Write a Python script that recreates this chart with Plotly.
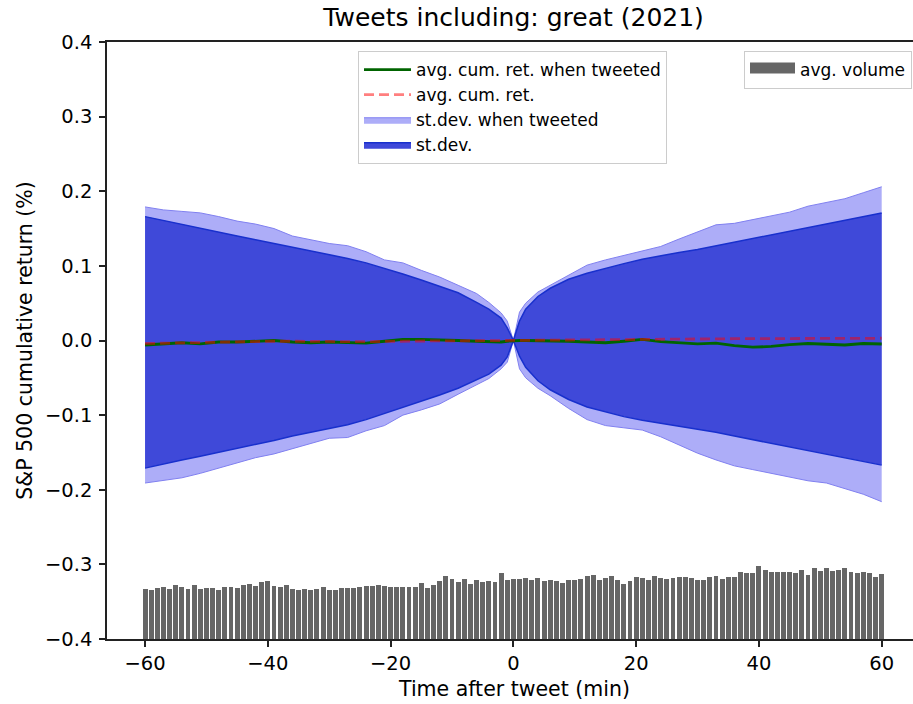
import plotly.graph_objects as go

# ---------------- data ----------------
minutes = [-60, -57, -54, -51, -48, -45, -42, -39, -36, -33, -30, -27, -24, -21, -18, -15, -12, -9, -6, -4, -2, -1, 0,
           1, 2, 4, 6, 9, 12, 15, 18, 21, 24, 27, 30, 33, 36, 39, 42, 45, 48, 51, 54, 57, 60]

ret_tweeted = [-0.006, -0.005, -0.003, -0.0045, -0.002, -0.002, -0.001, 0.0, -0.002, -0.003, -0.002, -0.003, -0.0035,
               -0.001, 0.0015, 0.0015, 0.001, 0.0, -0.001, -0.002, -0.002, -0.001, 0.0,
               0.0, 0.0, 0.0, -0.0005, -0.001, -0.002, -0.003, -0.001, 0.0015, -0.0015, -0.003, -0.0045, -0.0035,
               -0.007, -0.009, -0.008, -0.0055, -0.004, -0.005, -0.006, -0.004, -0.0047]

ret_all = [-0.004, -0.0035, -0.003, -0.003, -0.0025, -0.002, -0.0015, -0.001, -0.001, -0.0015, -0.0015, -0.0015,
           -0.0015, -0.001, -0.0005, -0.0005, -0.0005, -0.0005, -0.0005, 0.0, 0.0, 0.0, 0.0,
           0.0, 0.0, 0.0003, 0.0005, 0.0007, 0.001, 0.001, 0.0012, 0.0015, 0.0017, 0.002, 0.002, 0.0022, 0.0024,
           0.0025, 0.0026, 0.0027, 0.0028, 0.0029, 0.003, 0.003, 0.003]

sd_tweeted_upper = [0.179, 0.175, 0.173, 0.171, 0.166, 0.160, 0.156, 0.150, 0.140, 0.135, 0.130, 0.127, 0.119, 0.108,
                    0.104, 0.094, 0.085, 0.074, 0.063, 0.051, 0.037, 0.026, 0.0,
                    0.038, 0.050, 0.065, 0.074, 0.088, 0.101, 0.108, 0.114, 0.121, 0.126, 0.136, 0.145, 0.155, 0.157,
                    0.162, 0.166, 0.172, 0.180, 0.185, 0.190, 0.198, 0.206]

sd_tweeted_lower = [-0.191, -0.188, -0.184, -0.178, -0.171, -0.165, -0.157, -0.152, -0.145, -0.137, -0.131, -0.130,
                    -0.121, -0.114, -0.100, -0.093, -0.085, -0.072, -0.060, -0.051, -0.038, -0.029, 0.0,
                    -0.038, -0.050, -0.064, -0.074, -0.091, -0.106, -0.114, -0.117, -0.120, -0.129, -0.140, -0.151,
                    -0.160, -0.168, -0.173, -0.178, -0.184, -0.188, -0.191, -0.199, -0.206, -0.216]

sd_upper = [0.166, 0.161, 0.155, 0.150, 0.145, 0.140, 0.135, 0.130, 0.125, 0.120, 0.1155, 0.110, 0.104, 0.097,
            0.089, 0.081, 0.073, 0.064, 0.051, 0.042, 0.030, 0.017, 0.0,
            0.026, 0.042, 0.059, 0.070, 0.082, 0.090, 0.097, 0.103, 0.109, 0.114, 0.118, 0.122, 0.127, 0.132,
            0.137, 0.142, 0.147, 0.152, 0.156, 0.161, 0.166, 0.171]

sd_lower = [-0.171, -0.165, -0.160, -0.155, -0.150, -0.145, -0.139, -0.134, -0.128, -0.123, -0.118, -0.113, -0.106,
            -0.098, -0.090, -0.082, -0.073, -0.064, -0.053, -0.045, -0.033, -0.022, 0.0,
            -0.021, -0.036, -0.054, -0.066, -0.079, -0.089, -0.096, -0.102, -0.107, -0.111, -0.115, -0.118, -0.123,
            -0.128, -0.133, -0.138, -0.143, -0.148, -0.153, -0.157, -0.162, -0.167]

volume_minutes = list(range(-60, 61))
avg_volume = [83.7, 81.5, 85.4, 87.1, 83.2, 89.9, 86.5, 84.3, 89.9, 83.2,
              85.4, 85.4, 82.6, 86.5, 87.1, 85.4, 89.9, 92.7, 89.3, 95.5,
              97.1, 88.2, 86.5, 89.9, 83.7, 81.5, 83.7, 82.6, 83.7, 86.5,
              82.6, 82.6, 84.8, 85.4, 84.8, 86.5, 88.2, 88.2, 89.9, 89.3,
              87.1, 87.6, 87.1, 86.5, 86.5, 93.2, 85.4, 91.0, 96.6, 104.9,
              99.9, 94.9, 99.9, 92.7, 98.8, 95.5, 97.1, 94.9, 110.5, 98.2,
              99.9,
              99.9, 101.6, 98.8, 102.7, 96.6, 98.2, 97.1, 93.2, 98.8, 98.8,
              99.9, 104.9, 107.7, 99.4, 102.2, 105.5, 98.2, 91.5, 97.1, 103.8,
              101.6, 98.2, 105.5, 101.6, 100.5, 101.6, 104.4, 103.3, 102.2, 98.2,
              98.8, 103.3, 104.9, 101.0, 103.8, 103.3, 111.6, 111.1, 111.1, 122.3,
              115.0, 111.6, 112.2, 112.8, 112.8, 111.1, 115.0, 106.6, 118.4, 113.9,
              118.9, 114.4, 115.6, 118.9, 112.2, 110.0, 112.8, 110.0, 104.4, 108.9]

x_ticks = [-60, -40, -20, 0, 20, 40, 60]
x_tick_labels = ["\u221260", "\u221240", "\u221220", "0", "20", "40", "60"]
y_ticks = [0.4, 0.3, 0.2, 0.1, 0.0, -0.1, -0.2, -0.3, -0.4]
y_tick_labels = ["0.4", "0.3", "0.2", "0.1", "0.0", "\u22120.1", "\u22120.2", "\u22120.3", "\u22120.4"]

TITLE = "Tweets including: great (2021)"
X_LABEL = "Time after tweet (min)"
Y_LABEL = "S&P 500 cumulative return (%)"

# ---------------- styles ----------------
FONT = "DejaVu Sans"
LIGHT_FILL = "rgb(173,173,248)"
LIGHT_EDGE = "rgb(128,128,240)"
DARK_FILL = "rgb(63,73,217)"
DARK_EDGE = "rgb(24,48,205)"
BAR_COLOR = "#666666"
AX = "#222222"

fig = go.Figure()

# volume bars on a hidden twin axis
fig.add_trace(go.Bar(
    x=volume_minutes, y=avg_volume, width=0.8, yaxis="y2",
    marker=dict(color=BAR_COLOR, line=dict(width=0)),
    name="avg. volume", showlegend=False,
))
# legend entry for the volume bars (patch-style symbol)
fig.add_trace(go.Scatter(x=[None], y=[None], mode="lines", fill="toself", fillcolor=BAR_COLOR,
                         line=dict(color=BAR_COLOR, width=10),
                         name="avg. volume", legend="legend2", showlegend=True))

# st.dev. when tweeted (light band)
fig.add_trace(go.Scatter(x=minutes, y=sd_tweeted_upper, mode="lines",
                         line=dict(color=LIGHT_EDGE, width=1), showlegend=False, hoverinfo="skip"))
fig.add_trace(go.Scatter(x=minutes, y=sd_tweeted_lower, mode="lines", fill="tonexty",
                         fillcolor=LIGHT_FILL, line=dict(color=LIGHT_EDGE, width=1),
                         name="st.dev. when tweeted", legendrank=3))

# st.dev. (dark band)
fig.add_trace(go.Scatter(x=minutes, y=sd_upper, mode="lines",
                         line=dict(color=DARK_EDGE, width=1.5), showlegend=False, hoverinfo="skip"))
fig.add_trace(go.Scatter(x=minutes, y=sd_lower, mode="lines", fill="tonexty",
                         fillcolor=DARK_FILL, line=dict(color=DARK_EDGE, width=1.5),
                         name="st.dev.", legendrank=4))

# lines
fig.add_trace(go.Scatter(x=minutes, y=ret_tweeted, mode="lines",
                         line=dict(color="#006400", width=2.8),
                         name="avg. cum. ret. when tweeted", legendrank=1))
fig.add_trace(go.Scatter(x=minutes, y=ret_all, mode="lines",
                         line=dict(color="rgba(255,0,0,0.5)", width=2.8, dash="10px,5px"),
                         name="avg. cum. ret.", legendrank=2))

fig.update_layout(
    width=913, height=704,
    margin=dict(l=107, r=0, t=42, b=65, autoexpand=False),
    paper_bgcolor="white", plot_bgcolor="white",
    font=dict(family=FONT, size=19.5, color="#000000"),
    title=dict(text=TITLE, font=dict(family=FONT, size=25, color="#000000"),
               xref="paper", x=0.5045, xanchor="center",
               yref="container", y=1 - 17 / 704, yanchor="middle", automargin=False),
    xaxis=dict(range=[-66.2, 65.1], tickvals=x_ticks, ticktext=x_tick_labels, automargin=False,
               showgrid=False, zeroline=False, showline=True, linecolor=AX, linewidth=1.6,
               mirror=True, ticks="outside", ticklen=6, tickwidth=1.5, tickcolor=AX,
               tickfont=dict(family=FONT, size=19.5, color="#000000")),
    yaxis=dict(range=[-0.4, 0.4], tickvals=y_ticks, ticktext=y_tick_labels, automargin=False,
               showgrid=False, zeroline=False, showline=True, linecolor=AX, linewidth=1.6,
               mirror=False, ticks="outside", ticklen=6, tickwidth=1.5, tickcolor=AX,
               ticklabelstandoff=3,
               tickfont=dict(family=FONT, size=19.5, color="#000000"),
               title=dict(text=Y_LABEL, font=dict(family=FONT, size=20.5, color="#000000"), standoff=7)),
    yaxis2=dict(overlaying="y", range=[0, 1000], visible=False, showgrid=False, zeroline=False),
    annotations=[dict(text=X_LABEL, xref="paper", yref="paper", x=0.5045, y=-(689 - 639) / 597,
                      xanchor="center", yanchor="middle", showarrow=False,
                      font=dict(family=FONT, size=20.5, color="#000000"))],
    legend=dict(x=(358 - 107) / 806, y=1 - (51 - 42) / 597, xanchor="left", yanchor="top",
                traceorder="normal", itemwidth=47,
                bgcolor="rgba(255,255,255,0.8)", bordercolor="#cccccc", borderwidth=1,
                font=dict(family=FONT, size=17, color="#000000"), tracegroupgap=0),
    legend2=dict(x=(744 - 107) / 806, y=1 - (51 - 42) / 597, xanchor="left", yanchor="top",
                 itemwidth=45,
                 bgcolor="rgba(255,255,255,0.8)", bordercolor="#cccccc", borderwidth=1,
                 font=dict(family=FONT, size=17, color="#000000")),
    showlegend=True,
    bargap=0,
)

fig.write_html("out.html", config={"displayModeBar": False},
               post_script="document.body.style.margin='0';")
